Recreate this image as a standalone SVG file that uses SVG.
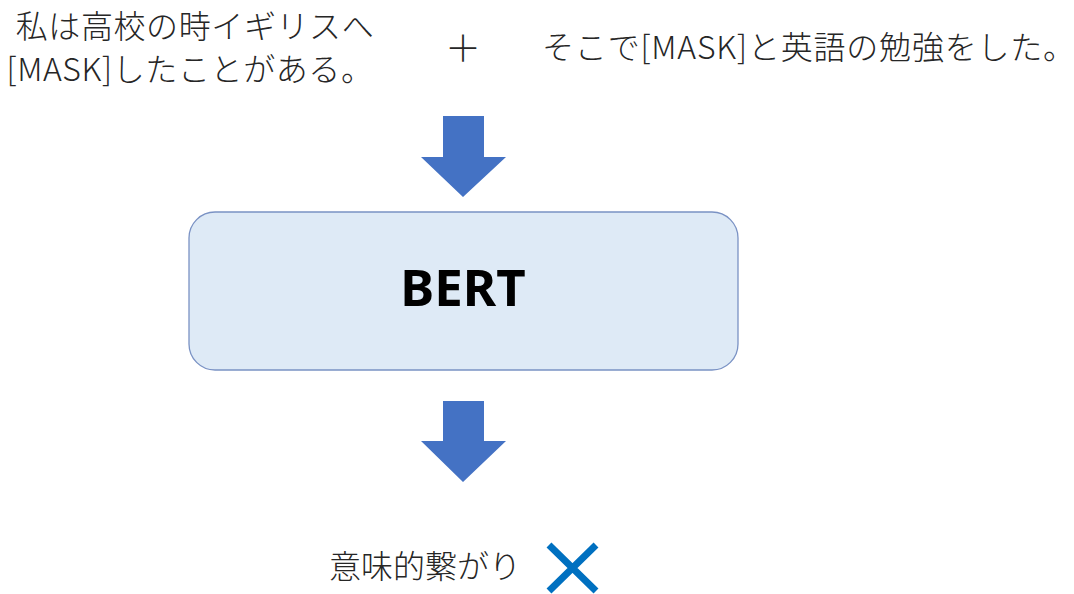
<svg xmlns="http://www.w3.org/2000/svg" width="1074" height="594" viewBox="0 0 1074 594">
<style>
.t{font-family:"Noto Sans CJK JP","Noto Sans",sans-serif;font-size:32px;fill:#262626;font-weight:300}
.arrow{fill:#4472C4}
</style>
<rect width="1074" height="594" fill="#ffffff"/>
<g id="input1">
<text class="t" x="195" y="38" text-anchor="middle" letter-spacing="0.6">私は高校の時イギリスへ</text>
<text class="t" x="190" y="81" text-anchor="middle" letter-spacing="0.6">[MASK]したことがある。</text>
</g>
<g id="plus"><text class="t" x="463" y="62" text-anchor="middle" style="font-size:36px">＋</text></g>
<g id="input2"><text class="t" x="809" y="59" text-anchor="middle" letter-spacing="0.8">そこで[MASK]と英語の勉強をした。</text></g>
<g id="connectors">
<polygon class="arrow" points="443,116 484,116 484,157 506,157 463,197 421,157 443,157"/>
<polygon class="arrow" points="443,401 484,401 484,441 506,441 463,482 421,441 443,441"/>
</g>
<g id="bert">
<rect x="189" y="212" width="549" height="158" rx="26" fill="#DEEAF6" stroke="#7A92C4" stroke-width="1.3"/>
<text x="463" y="306" text-anchor="middle" style="font-family:'Noto Sans','Open Sans',sans-serif;font-weight:700;font-size:51px;fill:#000">BERT</text>
</g>
<g id="output">
<text class="t" x="425" y="578" text-anchor="middle">意味的繋がり</text>
<path d="M549,545 L596,591 M596,545 L549,591" stroke="#0070C0" stroke-width="7" fill="none"/>
</g>
</svg>
